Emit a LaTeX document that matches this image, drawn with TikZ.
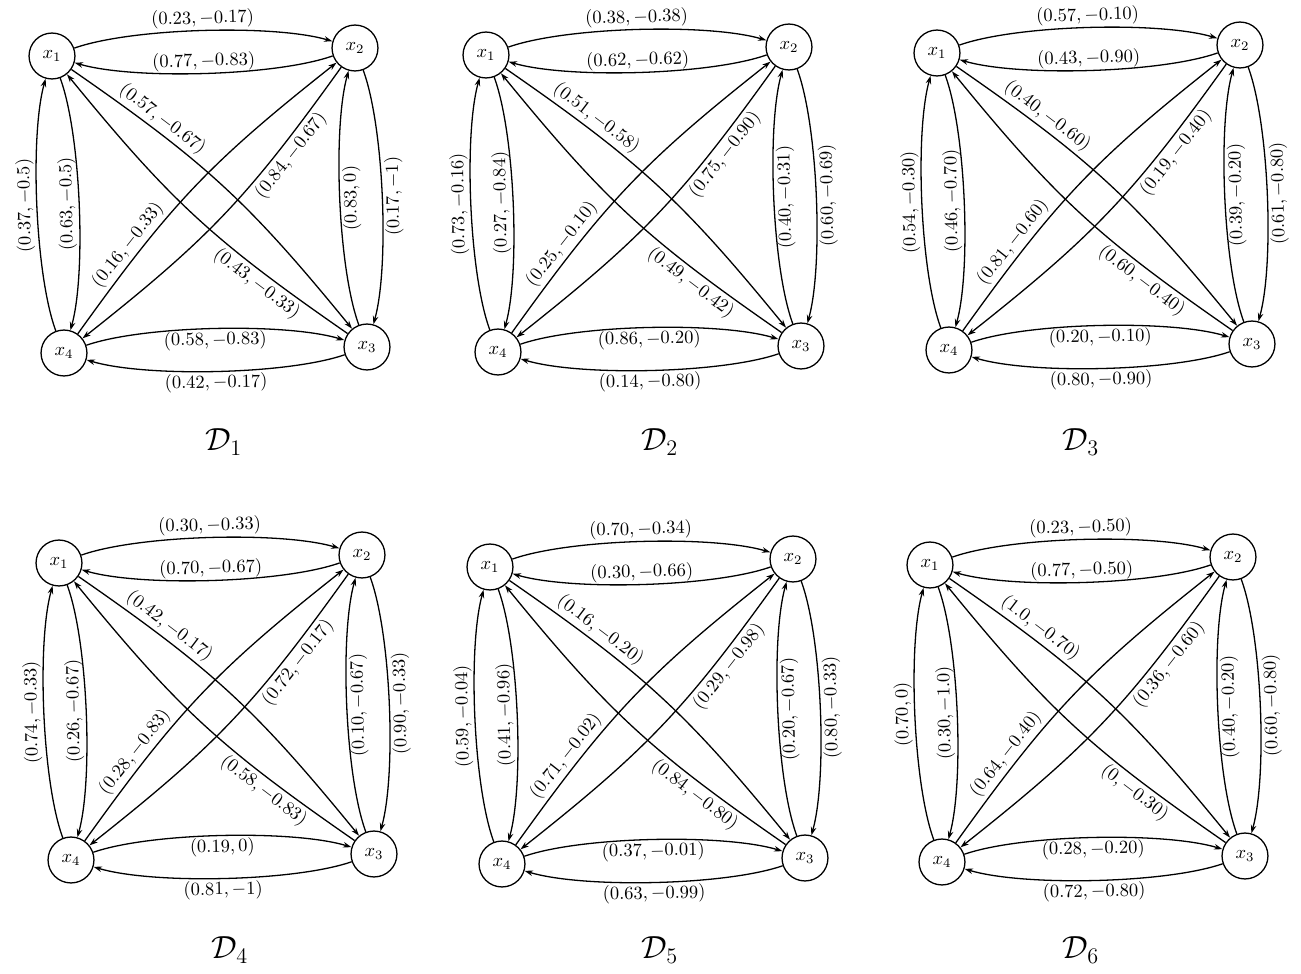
\documentclass[tikz,border=0pt]{standalone}
\usepackage{amsmath,amssymb}
\usepackage{tikz}
\usetikzlibrary{arrows.meta, positioning}

\begin{document}
\begin{tikzpicture}[
    x=0.54pt, y=0.54pt,
    state/.style={circle, draw, line width=0.7pt, minimum size=24.8pt, inner sep=0pt},
    arc/.style={-{Stealth[length=4.5pt,width=3pt]}, line width=0.7pt},
    side/.style={bend left=18, looseness=0.6},
    diag/.style={bend left=8, looseness=1.1},
    wt/.style={sloped, inner sep=1pt},
    wd/.style={sloped, inner sep=1.5pt, pos=0.24},
    wl/.style={rotate=91, anchor=south, inner sep=1pt},
    wr/.style={rotate=91, anchor=north, inner sep=1pt},
    caption/.style={font=\LARGE}
]
    \useasboundingbox (0,0) rectangle (1301,-974);

    % D1
    \begin{scope}[shift={(52,-56)}]
        \node[state] (a1) at (0,0) {$x_1$};
        \node[state] (a2) at (303,8) {$x_2$};
        \node[state] (a3) at (315,-291) {$x_3$};
        \node[state] (a4) at (12,-297) {$x_4$};
        \draw[arc] (a1) to[side] node[wt, above] {$(0.23, -0.17)$} (a2);
        \draw[arc] (a2) to[side] node[wt, above] {$(0.77, -0.83)$} (a1);
        \draw[arc] (a4) to[side] node[wl] {$(0.37, -0.5)$} (a1);
        \draw[arc] (a1) to[side] node[wl] {$(0.63, -0.5)$} (a4);
        \draw[arc] (a3) to[side] node[wr] {$(0.83, 0)$} (a2);
        \draw[arc] (a2) to[side] node[wr] {$(0.17, -1)$} (a3);
        \draw[arc] (a4) to[side] node[wt, below] {$(0.58, -0.83)$} (a3);
        \draw[arc] (a3) to[side] node[wt, below] {$(0.42, -0.17)$} (a4);
        \draw[arc] (a1) to[diag] node[wd, above] {$(0.57, -0.67)$} (a3);
        \draw[arc] (a3) to[diag] node[wd, below] {$(0.43, -0.33)$} (a1);
        \draw[arc] (a2) to[diag] node[wd, below] {$(0.84, -0.67)$} (a4);
        \draw[arc] (a4) to[diag] node[wd, above] {$(0.16, -0.33)$} (a2);
    \end{scope}

    % D2
    \begin{scope}[shift={(486,-55)}]
        \node[state] (b1) at (0,0) {$x_1$};
        \node[state] (b2) at (303,8) {$x_2$};
        \node[state] (b3) at (315,-291) {$x_3$};
        \node[state] (b4) at (12,-297) {$x_4$};
        \draw[arc] (b1) to[side] node[wt, above] {$(0.38, -0.38)$} (b2);
        \draw[arc] (b2) to[side] node[wt, above] {$(0.62, -0.62)$} (b1);
        \draw[arc] (b4) to[side] node[wl] {$(0.73, -0.16)$} (b1);
        \draw[arc] (b1) to[side] node[wl] {$(0.27, -0.84)$} (b4);
        \draw[arc] (b3) to[side] node[wr] {$(0.40, -0.31)$} (b2);
        \draw[arc] (b2) to[side] node[wr] {$(0.60, -0.69)$} (b3);
        \draw[arc] (b4) to[side] node[wt, below] {$(0.86, -0.20)$} (b3);
        \draw[arc] (b3) to[side] node[wt, below] {$(0.14, -0.80)$} (b4);
        \draw[arc] (b1) to[diag] node[wd, above] {$(0.51, -0.58)$} (b3);
        \draw[arc] (b3) to[diag] node[wd, below] {$(0.49, -0.42)$} (b1);
        \draw[arc] (b2) to[diag] node[wd, below] {$(0.75, -0.90)$} (b4);
        \draw[arc] (b4) to[diag] node[wd, above] {$(0.25, -0.10)$} (b2);
    \end{scope}

    % D3
    \begin{scope}[shift={(937,-53)}]
        \node[state] (c1) at (0,0) {$x_1$};
        \node[state] (c2) at (303,8) {$x_2$};
        \node[state] (c3) at (315,-291) {$x_3$};
        \node[state] (c4) at (12,-297) {$x_4$};
        \draw[arc] (c1) to[side] node[wt, above] {$(0.57, -0.10)$} (c2);
        \draw[arc] (c2) to[side] node[wt, above] {$(0.43, -0.90)$} (c1);
        \draw[arc] (c4) to[side] node[wl] {$(0.54, -0.30)$} (c1);
        \draw[arc] (c1) to[side] node[wl] {$(0.46, -0.70)$} (c4);
        \draw[arc] (c3) to[side] node[wr] {$(0.39, -0.20)$} (c2);
        \draw[arc] (c2) to[side] node[wr] {$(0.61, -0.80)$} (c3);
        \draw[arc] (c4) to[side] node[wt, below] {$(0.20, -0.10)$} (c3);
        \draw[arc] (c3) to[side] node[wt, below] {$(0.80, -0.90)$} (c4);
        \draw[arc] (c1) to[diag] node[wd, above] {$(0.40, -0.60)$} (c3);
        \draw[arc] (c3) to[diag] node[wd, below] {$(0.60, -0.40)$} (c1);
        \draw[arc] (c2) to[diag] node[wd, below] {$(0.19, -0.40)$} (c4);
        \draw[arc] (c4) to[diag] node[wd, above] {$(0.81, -0.60)$} (c2);
    \end{scope}

    % D4
    \begin{scope}[shift={(59,-563)}]
        \node[state] (d1) at (0,0) {$x_1$};
        \node[state] (d2) at (303,8) {$x_2$};
        \node[state] (d3) at (315,-291) {$x_3$};
        \node[state] (d4) at (12,-297) {$x_4$};
        \draw[arc] (d1) to[side] node[wt, above] {$(0.30, -0.33)$} (d2);
        \draw[arc] (d2) to[side] node[wt, above] {$(0.70, -0.67)$} (d1);
        \draw[arc] (d4) to[side] node[wl] {$(0.74, -0.33)$} (d1);
        \draw[arc] (d1) to[side] node[wl] {$(0.26, -0.67)$} (d4);
        \draw[arc] (d3) to[side] node[wr] {$(0.10, -0.67)$} (d2);
        \draw[arc] (d2) to[side] node[wr] {$(0.90, -0.33)$} (d3);
        \draw[arc] (d4) to[side] node[wt, below] {$(0.19, 0)$} (d3);
        \draw[arc] (d3) to[side] node[wt, below] {$(0.81, -1)$} (d4);
        \draw[arc] (d1) to[diag] node[wd, above] {$(0.42, -0.17)$} (d3);
        \draw[arc] (d3) to[diag] node[wd, below] {$(0.58, -0.83)$} (d1);
        \draw[arc] (d2) to[diag] node[wd, below] {$(0.72, -0.17)$} (d4);
        \draw[arc] (d4) to[diag] node[wd, above] {$(0.28, -0.83)$} (d2);
    \end{scope}

    % D5
    \begin{scope}[shift={(490,-567)}]
        \node[state] (e1) at (0,0) {$x_1$};
        \node[state] (e2) at (303,8) {$x_2$};
        \node[state] (e3) at (315,-291) {$x_3$};
        \node[state] (e4) at (12,-297) {$x_4$};
        \draw[arc] (e1) to[side] node[wt, above] {$(0.70, -0.34)$} (e2);
        \draw[arc] (e2) to[side] node[wt, above] {$(0.30, -0.66)$} (e1);
        \draw[arc] (e4) to[side] node[wl] {$(0.59, -0.04)$} (e1);
        \draw[arc] (e1) to[side] node[wl] {$(0.41, -0.96)$} (e4);
        \draw[arc] (e3) to[side] node[wr] {$(0.20, -0.67)$} (e2);
        \draw[arc] (e2) to[side] node[wr] {$(0.80, -0.33)$} (e3);
        \draw[arc] (e4) to[side] node[wt, below] {$(0.37, -0.01)$} (e3);
        \draw[arc] (e3) to[side] node[wt, below] {$(0.63, -0.99)$} (e4);
        \draw[arc] (e1) to[diag] node[wd, above] {$(0.16, -0.20)$} (e3);
        \draw[arc] (e3) to[diag] node[wd, below] {$(0.84, -0.80)$} (e1);
        \draw[arc] (e2) to[diag] node[wd, below] {$(0.29, -0.98)$} (e4);
        \draw[arc] (e4) to[diag] node[wd, above] {$(0.71, -0.02)$} (e2);
    \end{scope}

    % D6
    \begin{scope}[shift={(930,-565)}]
        \node[state] (f1) at (0,0) {$x_1$};
        \node[state] (f2) at (303,8) {$x_2$};
        \node[state] (f3) at (315,-291) {$x_3$};
        \node[state] (f4) at (12,-297) {$x_4$};
        \draw[arc] (f1) to[side] node[wt, above] {$(0.23, -0.50)$} (f2);
        \draw[arc] (f2) to[side] node[wt, above] {$(0.77, -0.50)$} (f1);
        \draw[arc] (f4) to[side] node[wl] {$(0.70, 0)$} (f1);
        \draw[arc] (f1) to[side] node[wl] {$(0.30, -1.0)$} (f4);
        \draw[arc] (f3) to[side] node[wr] {$(0.40, -0.20)$} (f2);
        \draw[arc] (f2) to[side] node[wr] {$(0.60, -0.80)$} (f3);
        \draw[arc] (f4) to[side] node[wt, below] {$(0.28, -0.20)$} (f3);
        \draw[arc] (f3) to[side] node[wt, below] {$(0.72, -0.80)$} (f4);
        \draw[arc] (f1) to[diag] node[wd, above] {$(1.0, -0.70)$} (f3);
        \draw[arc] (f3) to[diag] node[wd, below] {$(0, -0.30)$} (f1);
        \draw[arc] (f2) to[diag] node[wd, below] {$(0.36, -0.60)$} (f4);
        \draw[arc] (f4) to[diag] node[wd, above] {$(0.64, -0.40)$} (f2);
    \end{scope}

    \node[caption] (cap1) at (224,-442) {$\mathcal{D}_1$};
    \node[caption] (cap2) at (660,-442) {$\mathcal{D}_2$};
    \node[caption] (cap3) at (1081,-442) {$\mathcal{D}_3$};
    \node[caption] (cap4) at (230,-950) {$\mathcal{D}_4$};
    \node[caption] (cap5) at (660,-950) {$\mathcal{D}_5$};
    \node[caption] (cap6) at (1081,-950) {$\mathcal{D}_6$};
\end{tikzpicture}
\end{document}
